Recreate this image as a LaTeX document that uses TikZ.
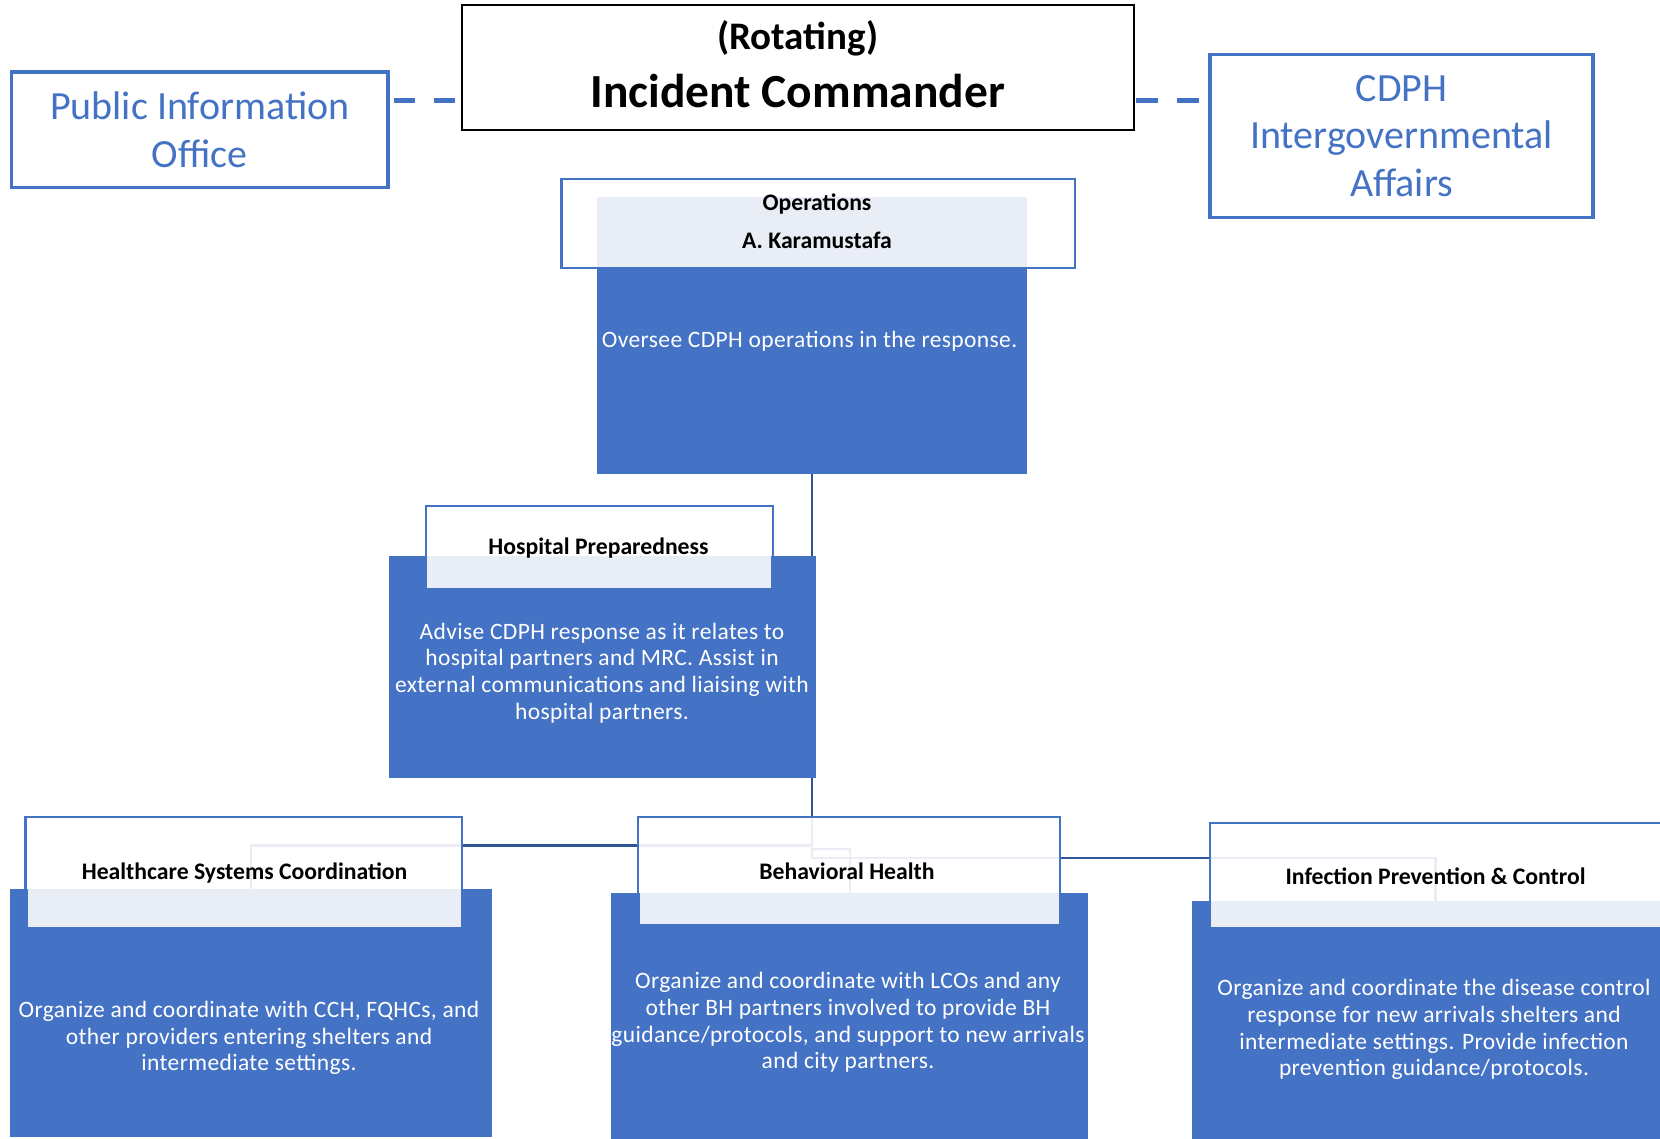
\documentclass[tikz,border=0pt]{standalone}
\usepackage{fontspec}
\setmainfont{Carlito}
\newfontfamily\bodyfont[LetterSpace=1.6]{Carlito}
\usetikzlibrary{backgrounds}
\definecolor{cblue}{HTML}{4472C4}
\definecolor{clight}{HTML}{E9EDF6}
\definecolor{cdark}{HTML}{2F5597}
\begin{document}
\begin{tikzpicture}[x=1pt,y=-1pt,
  every node/.style={inner sep=0pt, outer sep=0pt},
  sidebox/.style={draw=cblue, line width=3.3pt, fill=white, align=center, text=cblue, font=\fontsize{40}{47.5}\selectfont},
  cmdbox/.style={draw=black, line width=2pt, fill=white},
  headbox/.style={draw=cblue, line width=2.2pt, fill=white, fill opacity=0.9},
  darkbox/.style={fill=cblue},
  lightbox/.style={fill=clight},
  title/.style={font=\bfseries\fontsize{23.7}{28}\selectfont, text=black, align=center},
  body/.style={font=\bodyfont\fontsize{23.5}{26.6}\selectfont, text=white, align=center},
  dashlink/.style={draw=cblue, line width=5pt},
  treelink/.style={draw=cdark, line width=2.6pt}
]
\useasboundingbox (0,0) rectangle (1660,1139);
\clip (0,0) rectangle (1660,1139);

% top row
\node[cmdbox, minimum width=672.3pt, minimum height=124.9pt] (ic) at (797.7,67.7) {};
\node[font=\bfseries\fontsize{39}{47}\selectfont] (icrot) at (797.7,38.5) {(Rotating)};
\node[font=\bfseries\fontsize{47.5}{56}\selectfont] (icname) at (797.7,91) {Incident Commander};
\node[sidebox, minimum width=376.4pt, minimum height=115.7pt] (pio) at (199.8,130) {Public Information\\Office};
\node[sidebox, minimum width=383pt, minimum height=163pt] (cdph) at (1401.5,135.8) {CDPH\\Intergovernmental\\Affairs};

% operations
\node[headbox, minimum width=513.2pt, minimum height=89pt] (opsw) at (818,223.8) {};
\node[darkbox, minimum width=430pt, minimum height=207pt] (opsd) at (812,370.5) {};
\node[lightbox, minimum width=430pt, minimum height=69.7pt] (opsl) at (812,232) {};
\node[title] (opst1) at (817,204.3) {Operations};
\node[title] (opst2) at (817,240) {A. Karamustafa};
\node[body] (opsb) at (809.6,341.7) {Oversee CDPH operations in the response.};

% hospital preparedness
\node[headbox, minimum width=347pt, minimum height=82.6pt] (hospw) at (599.2,547) {};
\node[darkbox, minimum width=426.7pt, minimum height=222.6pt] (hospd) at (602.65,667) {};
\node[lightbox, minimum width=343.7pt, minimum height=32.6pt] (hospl) at (598.85,572) {};
\node[title] (hospt) at (598.5,548.3) {Hospital Preparedness};
\node[body] (hospb) at (602,673) {Advise CDPH response as it relates to\\hospital partners and MRC. Assist in\\external communications and liaising with\\hospital partners.};

% healthcare systems coordination
\node[headbox, minimum width=436.6pt, minimum height=109.7pt] (hscw) at (243.7,872.2) {};
\node[darkbox, minimum width=482.8pt, minimum height=247.4pt] (hscd) at (250.9,1013) {};
\node[lightbox, minimum width=433pt, minimum height=37.7pt] (hscl) at (244,907.9) {};
\node[title] (hsct) at (244.6,872.7) {Healthcare Systems Coordination};
\node[body] (hscb) at (249,1038) {Organize and coordinate with CCH, FQHCs, and\\other providers entering shelters and\\intermediate settings.};

% behavioral health
\node[headbox, minimum width=422.3pt, minimum height=107pt] (bhw) at (849.1,870.8) {};
\node[darkbox, minimum width=476.9pt, minimum height=251.7pt] (bhd) at (849.9,1019) {};
\node[lightbox, minimum width=419.2pt, minimum height=31pt] (bhl) at (849.1,908.8) {};
\node[title] (bht) at (847,871.7) {Behavioral Health};
\node[body] (bhb) at (848,1022.5) {Organize and coordinate with LCOs and any\\other BH partners involved to provide BH\\guidance/protocols, and support to new arrivals\\and city partners.};

% infection prevention & control
\node[headbox, minimum width=454pt, minimum height=103.4pt] (ipcw) at (1437,875) {};
\node[darkbox, minimum width=498.4pt, minimum height=244pt] (ipcd) at (1440.8,1023) {};
\node[lightbox, minimum width=459pt, minimum height=25.7pt] (ipcl) at (1440.5,913.85) {};
\node[title] (ipct) at (1435.6,876) {Infection Prevention \& Control};
\node[body] (ipcb) at (1434,1029.6) {Organize and coordinate the disease control\\response for new arrivals shelters and\\intermediate settings. Provide infection\\prevention guidance/protocols.};

% connectors
\coordinate (dy) at (0,100.5);
\coordinate (jl) at (0,845.5);
\coordinate (jb) at (0,849);
\coordinate (jr) at (0,858);
\draw[dashlink, dash pattern=on 21pt off 19pt, dash phase=34pt] (pio.east |- dy) -- (ic.west |- dy);
\draw[dashlink, dash pattern=on 22pt off 19pt, dash phase=39pt] (ic.east |- dy) -- (cdph.west |- dy);

\begin{pgfonlayer}{background}
\draw[treelink] (opsd.south) -- (opsd.south |- hospd.north);
\draw[treelink] (opsd.south |- hospd.south) |- (hscd.north |- jl) -- (hscd.north);
\draw[treelink] (opsd.south |- hospd.south) |- (bhd.north |- jb) -- (bhd.north);
\draw[treelink] (opsd.south |- hospd.south) |- (ipct |- jr) -- (ipct |- ipcd.north);
\end{pgfonlayer}
\end{tikzpicture}
\end{document}
